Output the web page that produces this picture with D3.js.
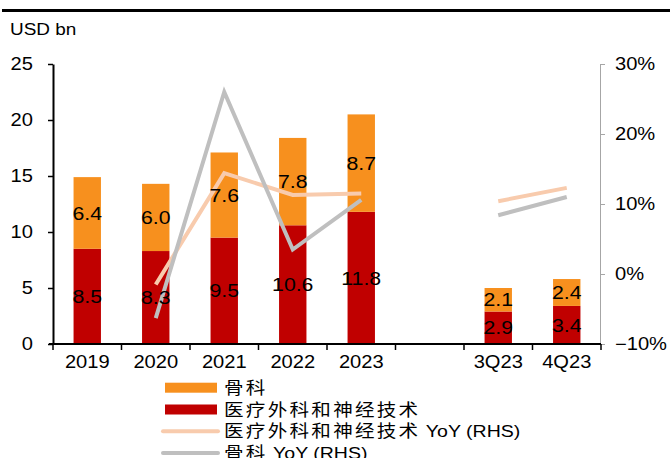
<!DOCTYPE html>
<html>
<head>
<meta charset="utf-8">
<script src="https://cdn.jsdelivr.net/npm/d3@7"></script>
<style>
  html, body { margin: 0; padding: 0; background: #fff; }
  svg { display: block; }
  text { font-family: "Liberation Sans", Arial, "Noto Sans CJK SC", sans-serif; fill: #000; }
</style>
</head>
<body>
<svg id="chart" width="670" height="458"></svg>
<script>
// ---- data ----
const categories = ["2019", "2020", "2021", "2022", "2023", "", "3Q23", "4Q23"];
const surgicalNeuro = [8.5, 8.3, 9.5, 10.6, 11.8, null, 2.9, 3.4];   // 医疗外科和神经技术
const orthopedics   = [6.4, 6.0, 7.6, 7.8, 8.7, null, 2.1, 2.4];     // 骨科
const surgicalYoY   = [null, -0.015, 0.144, 0.113, 0.115, null, 0.104, 0.123];
const orthoYoY      = [null, -0.063, 0.260, 0.035, 0.106, null, 0.084, 0.110];
const leftTicks  = [0, 5, 10, 15, 20, 25];
const rightTicks = [-0.1, 0, 0.1, 0.2, 0.3];
const legendItems = [
  {zh: "骨科", en: "", type: "rect", color: "#F7901E"},
  {zh: "医疗外科和神经技术", en: "", type: "rect", color: "#C00000"},
  {zh: "医疗外科和神经技术", en: " YoY (RHS)", type: "line", color: "#F8CBAD"},
  {zh: "骨科", en: " YoY (RHS)", type: "line", color: "#BFBFBF"}
];

const COLORS = {ortho: "#F7901E", surg: "#C00000", surgYoY: "#F8CBAD", orthoYoY: "#BFBFBF"};
const SX = 1.15; // horizontal text stretch of the original
const svg = d3.select("#chart");

// keys for band scale (blank slot needs unique key)
const keys = categories.map((c, i) => c === "" ? "_gap" + i : c);

const x = d3.scaleBand().domain(keys).range([53, 601]).paddingInner(0.6).paddingOuter(0.3);
const yL = d3.scaleLinear().domain([0, 25]).range([344, 64]);
const yR = d3.scaleLinear().domain([-0.1, 0.3]).range([344, 64]);

// top rule
svg.append("rect").attr("x", 2).attr("y", 9).attr("width", 668).attr("height", 3).attr("fill", "#000");

// unit label
svg.append("text").attr("transform", `translate(10,34.5) scale(${SX},1)`)
  .style("font-size", "16.5px").text("USD bn");

// bars
const rows = keys.map((k, i) => ({k, s: surgicalNeuro[i], o: orthopedics[i]})).filter(d => d.s != null);
const bars = svg.append("g");
bars.selectAll("rect.s").data(rows).join("rect").attr("class", "s")
  .attr("x", d => x(d.k)).attr("width", x.bandwidth())
  .attr("y", d => yL(d.s)).attr("height", d => yL(0) - yL(d.s)).attr("fill", COLORS.surg);
bars.selectAll("rect.o").data(rows).join("rect").attr("class", "o")
  .attr("x", d => x(d.k)).attr("width", x.bandwidth())
  .attr("y", d => yL(d.s + d.o)).attr("height", d => yL(d.s) - yL(d.s + d.o)).attr("fill", COLORS.ortho);

// lines
function drawLine(vals, color) {
  const pts = keys.map((k, i) => ({k, v: vals[i]}));
  const line = d3.line().defined(d => d.v != null)
    .x(d => x(d.k) + x.bandwidth() / 2).y(d => yR(d.v));
  svg.append("path").datum(pts).attr("d", line).attr("fill", "none")
    .attr("stroke", color).attr("stroke-width", 4).attr("stroke-linejoin", "miter");
}
drawLine(surgicalYoY, COLORS.surgYoY);
drawLine(orthoYoY, COLORS.orthoYoY);

// bar labels
const labels = svg.append("g");
rows.forEach(d => {
  const cx = x(d.k) + x.bandwidth() / 2;
  labels.append("text").attr("transform", `translate(${cx},${yL(d.s / 2)}) scale(${SX},1)`)
    .attr("text-anchor", "middle").attr("dy", "0.36em").style("font-size", "18.5px")
    .text(d3.format(".1f")(d.s));
  labels.append("text").attr("transform", `translate(${cx},${yL(d.s + d.o / 2)}) scale(${SX},1)`)
    .attr("text-anchor", "middle").attr("dy", "0.36em").style("font-size", "18.5px")
    .text(d3.format(".1f")(d.o));
});

// left axis
const gL = svg.append("g").attr("transform", "translate(53,0)")
  .call(d3.axisLeft(yL).tickValues(leftTicks).tickSize(5).tickSizeOuter(0).tickFormat(d3.format("d")));
gL.select(".domain").attr("stroke", "#000").attr("stroke-width", 2);
gL.selectAll(".tick line").attr("stroke", "#000").attr("stroke-width", 1.5);
gL.selectAll(".tick text").attr("x", 0).attr("transform", `translate(-20,0) scale(${SX},1)`)
  .style("font-size", "17.5px").attr("fill", "#000");

// right axis
const gR = svg.append("g").attr("transform", "translate(600,0)")
  .call(d3.axisRight(yR).tickValues(rightTicks).tickSize(5).tickSizeOuter(0).tickFormat(d3.format(".0%")));
gR.select(".domain").attr("stroke", "#A6A6A6").attr("stroke-width", 1);
gR.selectAll(".tick line").attr("stroke", "#A6A6A6");
gR.selectAll(".tick text").attr("x", 0).attr("transform", `translate(15,0) scale(${SX},1)`)
  .style("font-size", "17.5px").attr("fill", "#000");

// bottom axis (labels at centers, ticks at band boundaries)
const gB = svg.append("g").attr("transform", "translate(0,344)")
  .call(d3.axisBottom(x).tickSize(0).tickSizeOuter(0).tickFormat((k, i) => categories[i]));
gB.select(".domain").remove();
gB.selectAll(".tick text").attr("y", 0).attr("dy", 0)
  .attr("transform", `translate(0,24) scale(${SX},1)`).style("font-size", "17.5px").attr("fill", "#000");
const bounds = d3.range(keys.length + 1).map(i => x.range()[0] + i * x.step());
gB.append("line").attr("x1", 49).attr("x2", 601).attr("stroke", "#000").attr("stroke-width", 2);
gB.selectAll("line.b").data(bounds).join("line").attr("class", "b")
  .attr("x1", d => d).attr("x2", d => d).attr("y1", 0).attr("y2", 6)
  .attr("stroke", "#000").attr("stroke-width", 1.5);

// legend
const lg = svg.append("g");
legendItems.forEach((it, i) => {
  const cy = 387.7 + i * 21.8;
  if (it.type === "rect") {
    lg.append("rect").attr("x", 165).attr("y", cy - 5).attr("width", 52).attr("height", 10).attr("fill", it.color);
  } else {
    lg.append("line").attr("x1", 163).attr("x2", 218).attr("y1", cy).attr("y2", cy)
      .attr("stroke", it.color).attr("stroke-width", 4).attr("stroke-linecap", "round");
  }
  const t = lg.append("text").attr("transform", `translate(224,${cy}) scale(${SX},1)`)
    .attr("dy", "0.36em").style("font-size", "17px");
  t.append("tspan").style("font-family", '"Noto Sans CJK SC", sans-serif').style("letter-spacing", "2px").text(it.zh);
  if (it.en) t.append("tspan").text(it.en);
});
</script>
</body>
</html>
